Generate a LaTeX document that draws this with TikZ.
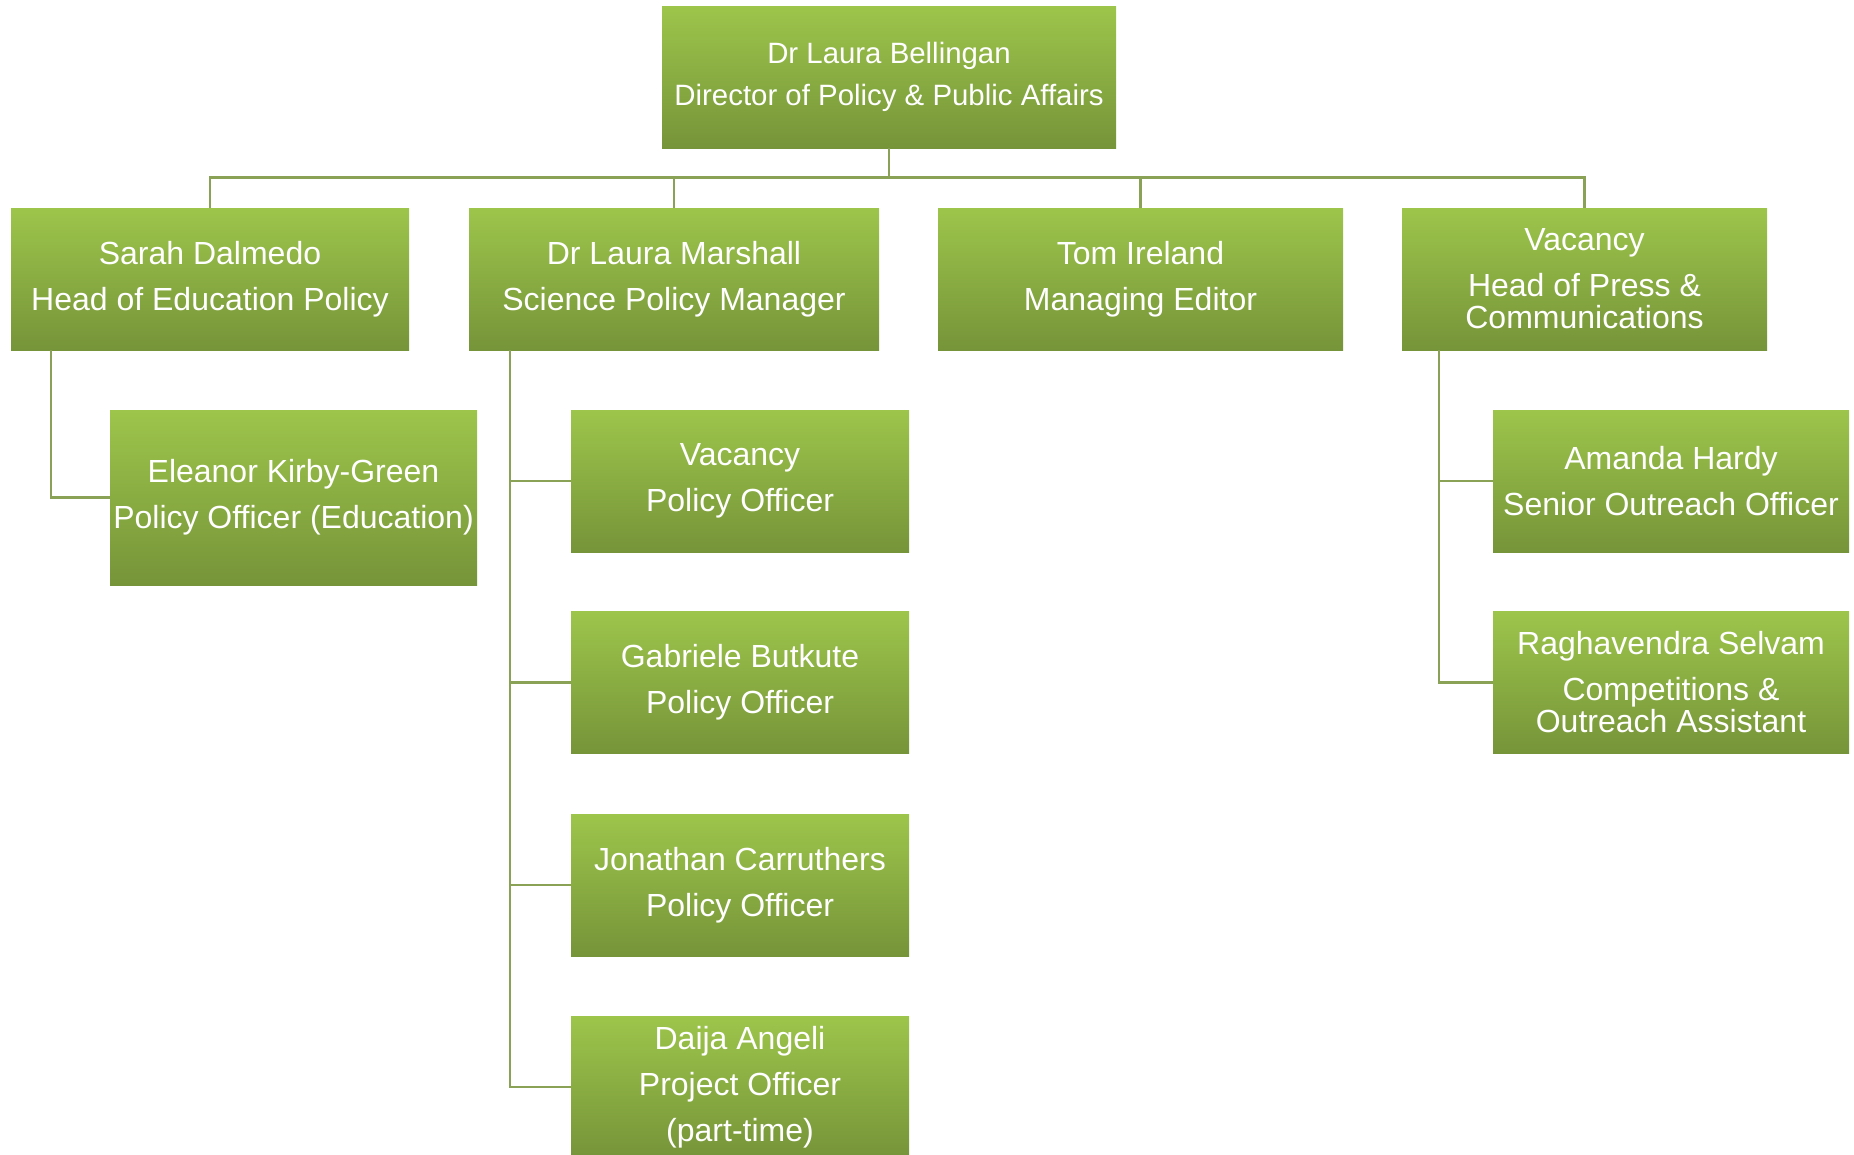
\documentclass[tikz,border=0pt]{standalone}
\usepackage{fontspec}
\setmainfont{Liberation Sans}
\definecolor{gtop}{RGB}{157,197,75}
\definecolor{gmid}{RGB}{143,178,68}
\definecolor{gbot}{RGB}{118,148,57}
\definecolor{linec}{RGB}{137,162,86}
\begin{document}
\begin{tikzpicture}[x=1pt,y=-1pt,
  orgbox/.style={rectangle, inner sep=0pt, top color=gtop, middle color=gmid, bottom color=gbot,
     text=white, align=center, minimum height=142pt, font=\fontsize{32}{32}\selectfont},
  topbox/.style={orgbox, font=\fontsize{29.4}{29.4}\selectfont},
  conn/.style={draw=linec, line width=2.5pt}]
\useasboundingbox (0,0) rectangle (1854,1154);
% level 0
\node[topbox, minimum width=454pt] (top) at (889,77) {Dr Laura Bellingan\\[13pt]Director of Policy \& Public Affairs};
% level 1
\node[orgbox, minimum width=398pt] (sarah) at (210,279) {Sarah Dalmedo\\[14pt]Head of Education Policy};
\node[orgbox, minimum width=410pt] (lmar) at (674,279) {Dr Laura Marshall\\[14pt]Science Policy Manager};
\node[orgbox, minimum width=405pt] (tom) at (1140.5,279) {Tom Ireland\\[14pt]Managing Editor};
\node[orgbox, minimum width=365pt] (vac) at (1584.5,279) {Vacancy\\[14pt]Head of Press \&\\Communications};
% children of Sarah
\node[orgbox, minimum width=367pt, minimum height=175pt] (elea) at (293.5,497.5) {Eleanor Kirby-Green\\[14pt]Policy Officer (Education)};
% children of Laura Marshall
\node[orgbox, minimum width=338pt] (pa) at (740,481) {Vacancy\\[14pt]Policy Officer};
\node[orgbox, minimum width=338pt] (pb) at (740,682.5) {Gabriele Butkute\\[14pt]Policy Officer};
\node[orgbox, minimum width=338pt] (pc) at (740,885) {Jonathan Carruthers\\[14pt]Policy Officer};
\node[orgbox, minimum width=338pt] (pd) at (740,1087) {Daija Angeli\\[14pt]Project Officer\\[14pt](part-time)};
% children of Vacancy
\node[orgbox, minimum width=356pt] (va) at (1671,481) {Amanda Hardy\\[14pt]Senior Outreach Officer};
\node[orgbox, minimum width=356pt] (vb) at (1671,682.5) {Raghavendra Selvam\\[14pt]Competitions \&\\Outreach Assistant};
% connectors
\coordinate (bus) at (0,177.5);
\coordinate (stemA) at (51,0);
\coordinate (stemB) at (510,0);
\coordinate (stemC) at (1439,0);
\draw[conn] (top.south) -- (top.south |- bus);
\draw[conn] (sarah.north) -- (sarah.north |- bus) -- (vac.north |- bus) -- (vac.north);
\draw[conn] (lmar.north) -- (lmar.north |- bus);
\draw[conn] (tom.north) -- (tom.north |- bus);
\draw[conn] (sarah.south -| stemA) |- (elea.west);
\draw[conn] (lmar.south -| stemB) |- (pd.west);
\draw[conn] (stemB |- pa.west) -- (pa.west);
\draw[conn] (stemB |- pb.west) -- (pb.west);
\draw[conn] (stemB |- pc.west) -- (pc.west);
\draw[conn] (vac.south -| stemC) |- (vb.west);
\draw[conn] (stemC |- va.west) -- (va.west);
\end{tikzpicture}
\end{document}
